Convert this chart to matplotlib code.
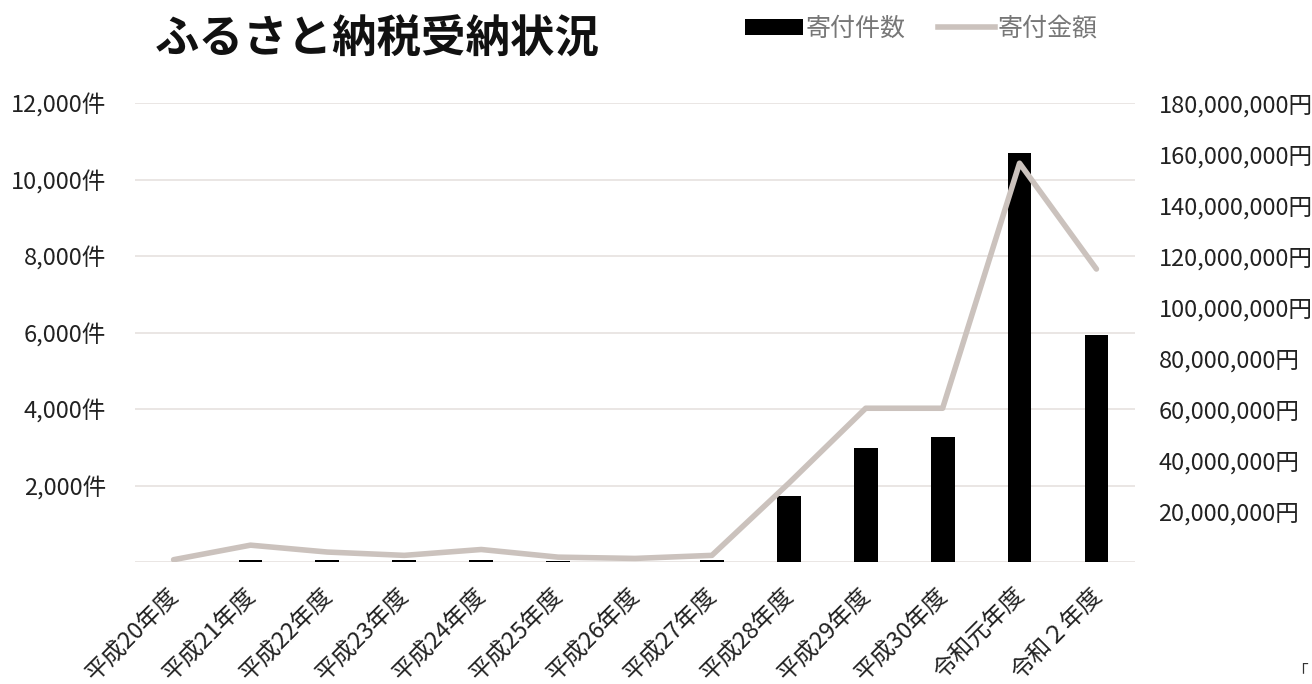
import matplotlib
matplotlib.use("Agg")
import matplotlib.pyplot as plt
import matplotlib.transforms as mtransforms
from matplotlib.patches import Patch
from matplotlib.lines import Line2D

plt.rcParams['font.family'] = ['Noto Sans CJK JP', 'DejaVu Sans']

# data
years = ["平成20年度", "平成21年度", "平成22年度", "平成23年度", "平成24年度",
         "平成25年度", "平成26年度", "平成27年度", "平成28年度", "平成29年度",
         "平成30年度", "令和元年度", "令和２年度"]
counts = [10, 60, 55, 60, 70, 30, 10, 60, 1730, 2980, 3270, 10690, 5940]
amounts = [1.0e6, 6.7e6, 4.0e6, 2.7e6, 5.0e6, 2.0e6, 1.5e6, 2.7e6,
           31e6, 60.4e6, 60.4e6, 156.5e6, 115e6]

left_ticks = [2000, 4000, 6000, 8000, 10000, 12000]
right_ticks = [20e6, 40e6, 60e6, 80e6, 100e6, 120e6, 140e6, 160e6, 180e6]

bar_color = "#000000"
line_color = "#cbc2bd"
text_color = "#222222"

fig = plt.figure(figsize=(13.12, 6.84), dpi=100)
ax = fig.add_axes([0.103, 0.178, 0.762, 0.671])
ax2 = ax.twinx()

x = list(range(len(years)))
ax.bar(x, counts, width=0.31, color=bar_color, zorder=3)
ax2.plot(x, amounts, color=line_color, linewidth=4, solid_capstyle='round', zorder=4)

ax.set_xlim(-0.5, len(years) - 0.5)
ax.set_ylim(0, 12000)
ax2.set_ylim(0, 180e6)

ax.set_yticks(left_ticks)
ax.set_yticklabels([f"{v:,}件" for v in left_ticks], fontsize=17, color=text_color)
ax2.set_yticks(right_ticks)
ax2.set_yticklabels([f"{int(v):,}円" for v in right_ticks], fontsize=17, color=text_color)

# category labels, rotated 45 degrees below each bar
ax.set_xticks(x)
ax.set_xticklabels([])
shift = mtransforms.ScaledTranslation(2 / 100, -30 / 100, fig.dpi_scale_trans)
for xi, name in zip(x, years):
    ax.text(xi, 0, name, transform=ax.get_xaxis_transform() + shift,
            rotation=45, ha='right', va='center', rotation_mode='anchor',
            fontsize=17, color=text_color, clip_on=False)

ax.grid(axis='y', color="#e6e2df", linewidth=1.2, zorder=0)
ax.set_axisbelow(True)
ax.axhline(0, color="#e6e2df", linewidth=1.2, zorder=1)

for a in (ax, ax2):
    for s in a.spines.values():
        s.set_visible(False)
    a.tick_params(length=0)
ax.tick_params(axis='y', pad=21)
ax2.tick_params(axis='y', pad=17)

ax2.set_zorder(ax.get_zorder() + 1)
ax2.patch.set_visible(False)

fig.text(0.118, 0.942, "ふるさと納税受納状況", fontsize=32, fontweight='bold',
         color="#111111", va='center', ha='left')

handles = [Patch(facecolor=bar_color, edgecolor='none'),
           Line2D([0], [0], color=line_color, linewidth=4)]
leg = fig.legend(handles, ["寄付件数", "寄付金額"], ncol=2, frameon=False,
                 loc='center left', bbox_to_anchor=(0.551, 0.958),
                 fontsize=18, handlelength=2.3, handleheight=0.6,
                 handletextpad=0.1, columnspacing=1.3)
for t in leg.get_texts():
    t.set_color("#777777")

fig.text(0.997, 0.018, "「", fontsize=12, color="#333333", ha='right', va='center')

fig.savefig("out.png", dpi=100)
